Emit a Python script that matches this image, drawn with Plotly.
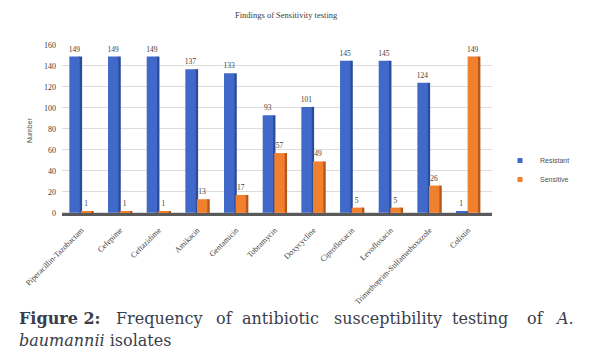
import plotly.graph_objects as go

categories = ["Piperacillin-Tazobactam", "Cefepime", "Ceftazidime", "Amikacin", "Gentamicin",
              "Tobramycin", "Doxycycline", "Ciprofloxacin", "Levofloxacin",
              "Trimethoprim-Sulfamethoxazole", "Colistin"]
resistant = [149, 149, 149, 137, 133, 93, 101, 145, 145, 124, 1]
sensitive = [1, 1, 1, 13, 17, 57, 49, 5, 5, 26, 149]
y_ticks = [0, 20, 40, 60, 80, 100, 120, 140, 160]

W, H = 595, 361
OFF = 8  # page body margin offset
L, R, T, B = 62, 103, 45, 145
PW, PH = W - L - R, H - T - B

def px(x):
    return (x - L) / PW

def py(y):
    return (H - B - y) / PH

xs = list(range(len(categories)))
BLUE, BLUE_D = "#4169c9", "#2b4b9b"
ORANGE, ORANGE_D = "#f07f2e", "#b4561a"
LBL = dict(family="Liberation Serif", size=7.5, color="#404040")

fig = go.Figure()
fig.add_trace(go.Bar(x=xs, y=resistant, offset=-0.06, width=0.08, marker_color=BLUE_D,
                     marker_line_width=0, showlegend=False, hoverinfo="skip"))
fig.add_trace(go.Bar(x=xs, y=resistant, offset=-0.31, width=0.27, marker_color=BLUE,
                     marker_line_width=0, showlegend=False, name="Resistant",
                     text=resistant, textposition="outside", textfont=LBL,
                     outsidetextfont=LBL, constraintext="none", cliponaxis=False))
fig.add_trace(go.Bar(x=xs, y=sensitive, offset=0.24, width=0.08, marker_color=ORANGE_D,
                     marker_line_width=0, showlegend=False, hoverinfo="skip"))
fig.add_trace(go.Bar(x=xs, y=sensitive, offset=-0.01, width=0.27, marker_color=ORANGE,
                     marker_line_width=0, showlegend=False, name="Sensitive",
                     text=sensitive, textposition="outside", textfont=LBL,
                     outsidetextfont=LBL, constraintext="none", cliponaxis=False))
fig.add_trace(go.Scatter(x=[None], y=[None], mode="markers", name="Resistant",
                         marker=dict(symbol="square", size=5, color=BLUE)))
fig.add_trace(go.Scatter(x=[None], y=[None], mode="markers", name="Sensitive",
                         marker=dict(symbol="square", size=5, color=ORANGE)))

fig.add_shape(type="rect", xref="x domain", yref="y", x0=0, x1=1.0, y0=-3, y1=0.8,
              fillcolor="#5a5a5a", line_width=0, layer="below")

fig.update_layout(
    width=W, height=H,
    margin=dict(l=L - OFF, r=R + OFF, t=T - OFF, b=B + OFF, autoexpand=False),
    paper_bgcolor="white", plot_bgcolor="white",
    barmode="overlay",
    uniformtext=dict(mode=False),
    showlegend=True,
    legend=dict(x=px(500), y=py(146), xanchor="left", yanchor="top",
                font=dict(family="Liberation Sans", size=7, color="#505050"),
                itemwidth=30, tracegroupgap=0, bgcolor="rgba(0,0,0,0)"),
    xaxis=dict(tickvals=xs, ticktext=categories, tickangle=-45, range=[-0.5, 10.62],
               showgrid=False, zeroline=False, showline=False, ticks="", automargin=False,
               ticklabelstandoff=7,
               tickfont=dict(family="Liberation Serif", size=8, color="#404040")),
    yaxis=dict(range=[-3, 160], tickvals=y_ticks, showgrid=True, gridcolor="#dcdcdc",
               gridwidth=1, zeroline=False, showline=False, ticks="", automargin=False,
               ticklabelstandoff=5,
               tickfont=dict(family="Liberation Serif", size=8, color="#404040"),
               title=dict(text="Number", font=dict(family="Liberation Sans", size=7, color="#505050"),
                          standoff=10)),
)

fig.add_annotation(text="Findings of Sensitivity testing", xref="paper", yref="paper",
                   x=px(286), y=py(15), showarrow=False, yanchor="middle",
                   font=dict(family="Liberation Serif", size=8.5, color="#404040"))

cap_font = dict(family="DejaVu Serif", size=16, color="#3a3d4a")
words = [("<b>Figure 2:</b>", 17), ("Frequency", 114), ("of", 214), ("antibiotic", 240),
         ("susceptibility", 332), ("testing", 450), ("of", 525), ("<i>A.</i>", 553)]
for w, x in words:
    fig.add_annotation(text=w, xref="paper", yref="paper", x=px(x), y=py(318),
                       xanchor="left", yanchor="middle", showarrow=False, font=cap_font)
fig.add_annotation(text="<i>baumannii</i> isolates", xref="paper", yref="paper",
                   x=px(17), y=py(340), xanchor="left", yanchor="middle",
                   showarrow=False, font=cap_font)

fig.write_html("out.html")
